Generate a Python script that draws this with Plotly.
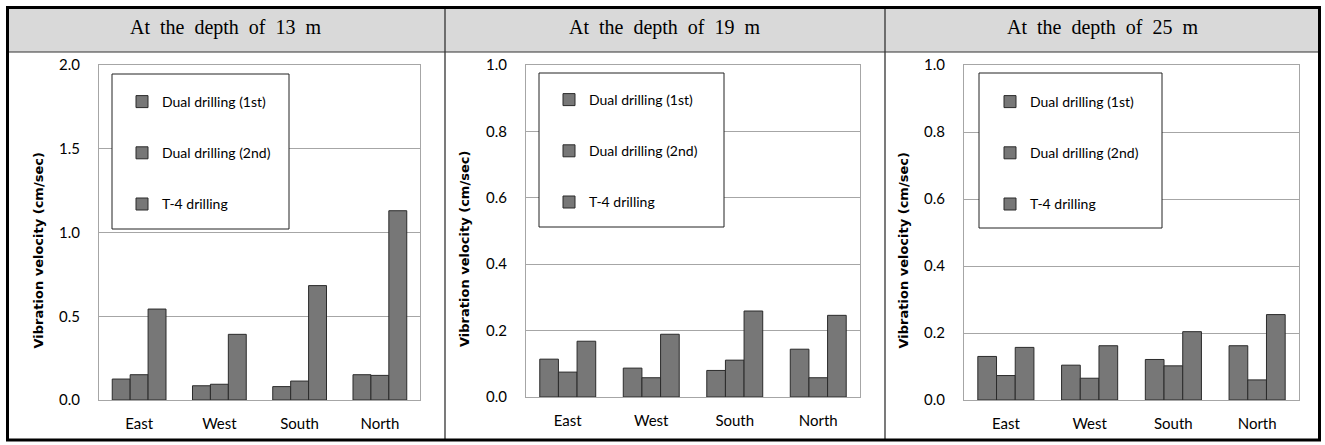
import plotly.graph_objects as go

W, H = 1325, 445

directions = ["East", "West", "South", "North"]
series_names = ["Dual drilling (1st)", "Dual drilling (2nd)", "T-4 drilling"]
panel_titles = ["At the depth of 13 m", "At the depth of 19 m", "At the depth of 25 m"]

# depth 13 m
d13_dual1 = [0.125, 0.085, 0.080, 0.151]
d13_dual2 = [0.151, 0.094, 0.113, 0.147]
d13_t4 = [0.543, 0.392, 0.683, 1.130]
# depth 19 m
d19_dual1 = [0.114, 0.087, 0.080, 0.144]
d19_dual2 = [0.075, 0.058, 0.111, 0.058]
d19_t4 = [0.168, 0.189, 0.259, 0.246]
# depth 25 m
d25_dual1 = [0.130, 0.104, 0.121, 0.162]
d25_dual2 = [0.073, 0.065, 0.102, 0.060]
d25_t4 = [0.157, 0.162, 0.204, 0.255]

y_max = [2.0, 1.0, 1.0]
y_dtick = [0.5, 0.2, 0.2]
y_title = "Vibration velocity (cm/sec)"

panels = [
    [d13_dual1, d13_dual2, d13_t4],
    [d19_dual1, d19_dual2, d19_t4],
    [d25_dual1, d25_dual2, d25_t4],
]

def fx(px):
    return px / W

def fy(py):
    return 1 - py / H

# plot areas in pixels (left, right, top, bottom)
areas = [(99, 420, 65, 400), (526, 860, 65, 397), (964, 1299, 65, 400)]
legend_boxes = [(112, 289, 74, 229), (539, 724, 73, 227), (979, 1162, 73, 228)]
legend_pos = [(122, 86), (549, 84), (990, 86)]
col_bounds = [(7, 445), (445, 885), (885, 1320)]

FONT = "Lato, 'DejaVu Sans Condensed', sans-serif"
BAR_COLOR = "#777777"
BAR_LINE = "#2b2b2b"

fig = go.Figure()
legend_ids = ["legend", "legend2", "legend3"]

for p, vals in enumerate(panels):
    ax = "" if p == 0 else str(p + 1)
    for s, name in enumerate(series_names):
        fig.add_trace(go.Bar(
            x=directions, y=vals[s], name=name,
            xaxis="x" + ax, yaxis="y" + ax,
            marker=dict(color=BAR_COLOR, line=dict(color=BAR_LINE, width=1)),
            legend=legend_ids[p], legendgroup=f"p{p}s{s}",
        ))

layout = dict(
    template="none",
    width=W, height=H, autosize=False,
    margin=dict(l=0, r=0, t=0, b=0, pad=0, autoexpand=False),
    paper_bgcolor="white", plot_bgcolor="white",
    barmode="group", bargap=0.33, bargroupgap=0,
    font=dict(family=FONT, size=15, color="#000000"),
    showlegend=True,
)

shapes = []
annotations = []

for p in range(3):
    l, r, t, b = areas[p]
    ax = "" if p == 0 else str(p + 1)
    layout["xaxis" + ax] = dict(
        domain=[fx(l), fx(r)], anchor="y" + ax, automargin=False,
        showline=True, linecolor="#a6a6a6", linewidth=1, mirror=True,
        showgrid=False, ticks="", ticklabelstandoff=10,
        tickfont=dict(family=FONT, size=15, color="#000"),
        fixedrange=True,
    )
    layout["yaxis" + ax] = dict(
        domain=[fy(b), fy(t)], anchor="x" + ax, automargin=False,
        range=[0, y_max[p]], dtick=y_dtick[p], tickformat=".1f",
        showline=True, linecolor="#a6a6a6", linewidth=1, mirror=True,
        showgrid=True, gridcolor="#a6a6a6", gridwidth=1,
        zeroline=False, ticks="", ticklabelstandoff=15,
        tickfont=dict(family=FONT, size=15, color="#000"),
        fixedrange=True,
    )
    lid = legend_ids[p]
    lx, ly = legend_pos[p]
    layout[lid] = dict(
        x=fx(lx), y=fy(ly), xanchor="left", yanchor="top",
        xref="paper", yref="paper",
        bgcolor="rgba(0,0,0,0)", borderwidth=0,
        tracegroupgap=30,
        font=dict(family=FONT, size=14, color="#000"),
    )
    bl, br, bt, bb = legend_boxes[p]
    shapes.append(dict(
        type="rect", xref="paper", yref="paper",
        x0=fx(bl), x1=fx(br), y0=fy(bb), y1=fy(bt),
        line=dict(color="#222222", width=1), fillcolor="white", layer="above",
    ))
    # y axis title
    annotations.append(dict(
        text="<b>" + y_title + "</b>", textangle=-90, xref="paper", yref="paper",
        x=fx(l - 61), y=fy((t + b) / 2 + 18), showarrow=False,
        xanchor="center", yanchor="middle",
        font=dict(family="'DejaVu Sans', Verdana, sans-serif", size=13, color="#000"),
    ))

# table: header background
shapes.append(dict(type="rect", xref="paper", yref="paper",
                   x0=fx(7), x1=fx(1320), y0=fy(52), y1=fy(7),
                   fillcolor="#d9d9d9", line=dict(width=0), layer="below"))
# header divider
shapes.append(dict(type="line", xref="paper", yref="paper",
                   x0=fx(7), x1=fx(1320), y0=fy(52), y1=fy(52),
                   line=dict(color="#333333", width=1)))
# column dividers
for xpx in (445, 885):
    shapes.append(dict(type="line", xref="paper", yref="paper",
                       x0=fx(xpx), x1=fx(xpx), y0=fy(440), y1=fy(7),
                       line=dict(color="#333333", width=1.3)))
# outer border
shapes.append(dict(type="rect", xref="paper", yref="paper",
                   x0=fx(7.5), x1=fx(1319.5), y0=fy(440), y1=fy(7.5),
                   line=dict(color="#000000", width=3), fillcolor="rgba(0,0,0,0)"))

for p, title in enumerate(panel_titles):
    c0, c1 = col_bounds[p]
    annotations.append(dict(
        text=title.replace(" ", "\u00a0\u00a0"), xref="paper", yref="paper",
        x=fx((c0 + c1) / 2), y=fy(28), showarrow=False,
        xanchor="center", yanchor="middle",
        font=dict(family="'Liberation Serif', 'Times New Roman', serif", size=20, color="#000"),
    ))

layout["shapes"] = shapes
layout["annotations"] = annotations
fig.update_layout(**layout)

fig.write_html("out.html", config={"displayModeBar": False},
               post_script="document.body.style.margin='0';")
